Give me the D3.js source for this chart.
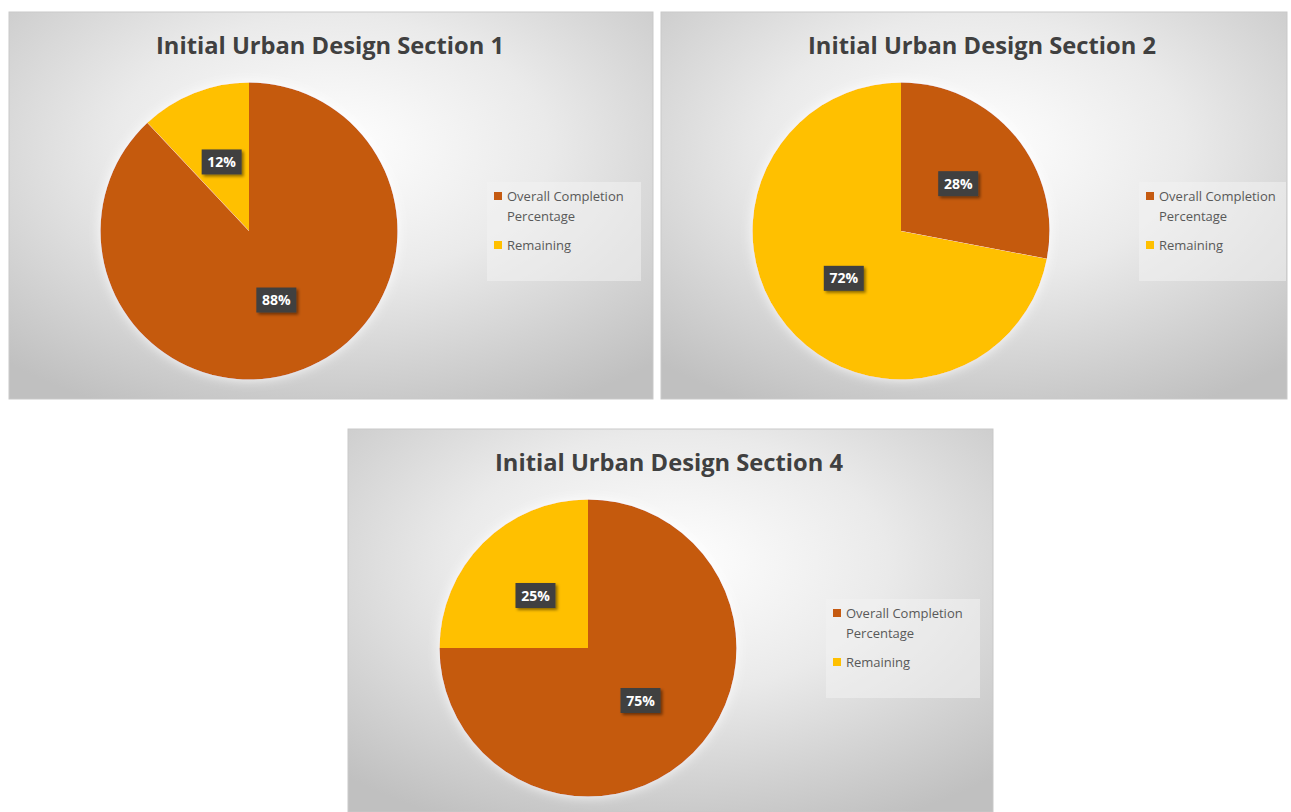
<!DOCTYPE html>
<html>
<head>
<meta charset="utf-8">
<script src="https://cdn.jsdelivr.net/npm/d3@7"></script>
<style>
  html, body { margin: 0; padding: 0; background: #fff; }
  svg { display: block; }
</style>
</head>
<body>
<svg id="chart" width="1291" height="812"></svg>
<script>
// ── Data ──
const titles = [
  "Initial Urban Design Section 1",
  "Initial Urban Design Section 2",
  "Initial Urban Design Section 4"
];
const categories = ["Overall Completion Percentage", "Remaining"];
const completion = [0.88, 0.28, 0.75];
const remaining = [0.12, 0.72, 0.25];
const colors = ["#C55A11", "#FFC000"];

// ── Panel boxes ──
const panels = [
  { x: 9, y: 12, w: 644, h: 387 },
  { x: 661, y: 12, w: 626, h: 387 },
  { x: 348, y: 429, w: 645, h: 383 }
];

const svg = d3.select("#chart");
const defs = svg.append("defs");

const grad = defs.append("radialGradient")
  .attr("id", "bg")
  .attr("cx", "50%").attr("cy", "35%").attr("r", "75%");
grad.append("stop").attr("offset", "0%").attr("stop-color", "#ffffff");
grad.append("stop").attr("offset", "45%").attr("stop-color", "#eaeaea");
grad.append("stop").attr("offset", "100%").attr("stop-color", "#c0c0c0");

const shadow = defs.append("filter").attr("id", "shadow")
  .attr("x", "-30%").attr("y", "-30%").attr("width", "170%").attr("height", "170%");
shadow.append("feDropShadow")
  .attr("dx", 2).attr("dy", 2).attr("stdDeviation", 1.5)
  .attr("flood-color", "#000").attr("flood-opacity", 0.45);

const glow = defs.append("filter").attr("id", "glow")
  .attr("x", "-20%").attr("y", "-20%").attr("width", "140%").attr("height", "140%");
glow.append("feDropShadow")
  .attr("dx", 0).attr("dy", 0).attr("stdDeviation", 6)
  .attr("flood-color", "#ffffff").attr("flood-opacity", 0.9);

const radius = 148.5;
const pie = d3.pie().sort(null).value(d => d);
const arc = d3.arc().innerRadius(0).outerRadius(radius);
const labelArc = d3.arc().innerRadius(0).outerRadius(radius);

titles.forEach((title, i) => {
  const p = panels[i];
  const g = svg.append("g").attr("transform", `translate(${p.x},${p.y})`);

  g.append("rect")
    .attr("width", p.w).attr("height", p.h)
    .attr("fill", "url(#bg)")
    .attr("stroke", "#c9c9c9").attr("stroke-width", 1);

  g.append("text")
    .attr("x", 321).attr("y", 42)
    .attr("text-anchor", "middle")
    .attr("font-family", "'Open Sans', sans-serif")
    .attr("font-weight", 700)
    .attr("font-size", 23)
    .attr("textLength", 348)
    .attr("lengthAdjust", "spacingAndGlyphs")
    .attr("fill", "#404040")
    .text(title);

  const values = [completion[i], remaining[i]];
  const arcs = pie(values);

  const pg = g.append("g").attr("transform", `translate(240,219)`);

  pg.append("g").attr("filter", "url(#glow)")
    .selectAll("path")
    .data(arcs)
    .join("path")
    .attr("d", arc)
    .attr("fill", (d, j) => colors[j]);

  const lbl = pg.selectAll("g.lbl")
    .data(arcs)
    .join("g")
    .attr("class", "lbl")
    .attr("transform", d => `translate(${labelArc.centroid(d)})`);

  lbl.append("rect")
    .attr("x", -20).attr("y", -12.5)
    .attr("width", 40).attr("height", 25)
    .attr("fill", "#404040")
    .attr("filter", "url(#shadow)");

  lbl.append("text")
    .attr("text-anchor", "middle")
    .attr("dy", "0.36em")
    .attr("font-family", "'Open Sans', sans-serif")
    .attr("font-weight", 700)
    .attr("font-size", 14)
    .attr("fill", "#ffffff")
    .text(d => d3.format(".0%")(d.data));

  // ── Legend ──
  const lg = g.append("g").attr("transform", "translate(478,170)");
  lg.append("rect")
    .attr("width", Math.min(154, p.w - 478 - 1)).attr("height", 99)
    .attr("fill", "#f2f2f2").attr("fill-opacity", 0.55);

  const rows = [
    { cat: 0, lines: ["Overall Completion", "Percentage"], y: 19 },
    { cat: 1, lines: ["Remaining"], y: 68 }
  ];
  rows.forEach(r => {
    lg.append("rect")
      .attr("x", 7).attr("y", r.y - 9)
      .attr("width", 8).attr("height", 8)
      .attr("fill", colors[r.cat]);
    r.lines.forEach((t, k) => {
      lg.append("text")
        .attr("x", 20).attr("y", r.y + k * 20)
        .attr("font-family", "'Open Sans', sans-serif")
        .attr("font-size", 13)
        .attr("fill", "#595959")
        .text(t);
    });
  });
});
</script>
</body>
</html>
